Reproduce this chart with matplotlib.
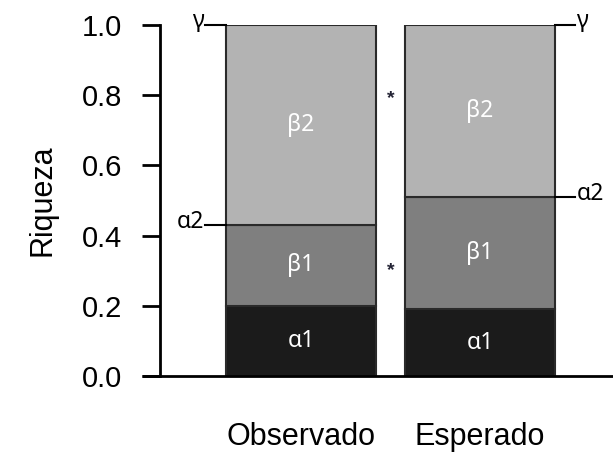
import matplotlib.pyplot as plt

categorias = ["Observado", "Esperado"]
alpha1 = [0.20, 0.19]
beta1 = [0.23, 0.32]
beta2 = [0.57, 0.49]
etiquetas = ["α1", "β1", "β2"]
colores = ["#1b1b1b", "#7f7f7f", "#b3b3b3"]
asteriscos = [0.79, 0.30]

plt.rcParams['font.family'] = ['Liberation Sans', 'DejaVu Sans']
fuente_sec = ["Noto Sans", "DejaVu Sans"]

fig = plt.figure(figsize=(6.13, 4.57), dpi=100)
ax = fig.add_axes([160/613, 1-376/457, 453/613, 351/457])

x = [0, 1]
ancho = 0.838
base = [0, 0]
for vals, col, lab in zip([alpha1, beta1, beta2], colores, etiquetas):
    ax.bar(x, vals, ancho, bottom=base, color=col, edgecolor="#2a2a2a", linewidth=1.5)
    for i in range(2):
        ax.text(x[i], base[i] + vals[i] / 2, lab, color="white", ha="center", va="center",
                fontsize=16.5, family=fuente_sec)
    base = [base[i] + vals[i] for i in range(2)]

# marcas alpha2 y gamma
a2 = [alpha1[i] + beta1[i] for i in range(2)]
izq = -ancho / 2
der = 1 + ancho / 2
ax.plot([izq - 0.118, izq], [1, 1], color="black", lw=1.5, clip_on=False)
ax.plot([izq - 0.118, izq], [a2[0], a2[0]], color="black", lw=1.5, clip_on=False)
ax.text(izq - 0.125, 1.012, "γ", ha="right", va="center", fontsize=16.5, family=fuente_sec)
ax.text(izq - 0.12, a2[0] + 0.008, "α2", ha="right", va="center", fontsize=16.5, family=fuente_sec)
ax.plot([der, der + 0.112], [1, 1], color="black", lw=1.5, clip_on=False)
ax.plot([der, der + 0.112], [a2[1], a2[1]], color="black", lw=1.5, clip_on=False)
ax.text(der + 0.12, 1.012, "γ", ha="left", va="center", fontsize=16.5, family=fuente_sec)
ax.text(der + 0.12, a2[1] + 0.008, "α2", ha="left", va="center", fontsize=16.5, family=fuente_sec)

for y in asteriscos:
    ax.text(0.503, y, "*", ha="center", va="center", fontsize=14, fontweight="bold", color="#222233")

ax.set_xlim(-0.788, 1.743)
ax.set_ylim(0, 1)
ax.set_yticks([0, 0.2, 0.4, 0.6, 0.8, 1.0])
ax.set_yticklabels(["0.0", "0.2", "0.4", "0.6", "0.8", "1.0"])
ax.tick_params(axis="y", length=13, width=2, labelsize=21, pad=14)
ax.set_xticks(x)
ax.set_xticklabels(categorias)
ax.tick_params(axis="x", length=0, labelsize=22, pad=33)
ax.set_ylabel("Riqueza", fontsize=22, labelpad=18)

ax.spines["top"].set_visible(False)
ax.spines["right"].set_visible(False)
ax.spines["bottom"].set_visible(False)
ax.spines["left"].set_linewidth(2)
ax.plot([-0.89, 1.743], [0, 0], color="black", lw=2, clip_on=False, solid_capstyle="butt")

fig.savefig("out.png", dpi=100)
